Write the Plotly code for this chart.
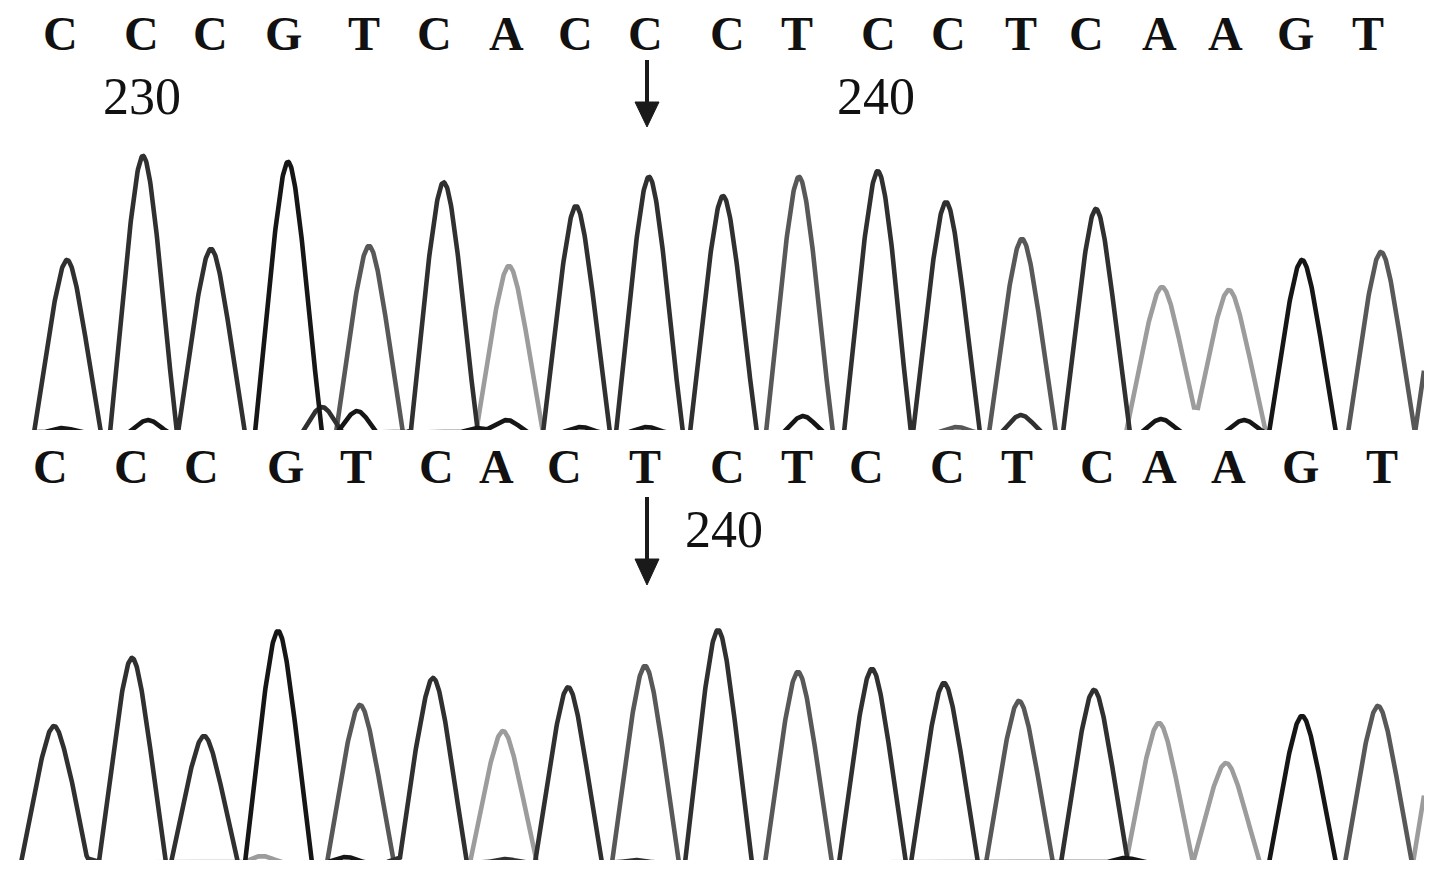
import numpy as np
import plotly.graph_objects as go

W, H = 1441, 878      # reference picture size (pixels)

# ---------------- data ----------------
# Upper trace (wild type)
top_bases = list("CCCGTCACCCTCCTCAAGT")
top_label_x = [60, 141, 210, 283, 364, 434, 506, 575, 645, 727, 797, 878, 948, 1021, 1086, 1159, 1225, 1295, 1368]
top_peak_x = [67, 143, 211, 288, 369, 444, 509, 576, 649, 723, 799, 877, 946, 1022, 1096, 1162, 1229, 1302, 1381]
top_peak_h = [173, 277, 184, 271, 187, 250, 167, 227, 256, 237, 256, 256, 231, 194, 219, 146, 143, 173, 181]
top_peak_w = [33, 33, 33, 33, 33, 33, 33, 33, 33, 33, 33, 33, 33, 33, 33, 36, 36, 33, 33]
top_edge_x, top_edge_h, top_edge_base = [1448], [180], ["T"]
top_minor_x = [62, 148, 322, 357, 425, 478, 507, 581, 647, 803, 890, 957, 1021, 1095, 1161, 1244]
top_minor_h = [5, 13, 26, 22, 7, 5, 13, 6, 6, 17, 12, 6, 18, 5, 14, 13]
top_minor_base = list("GGCGCGGGGGCTCCGG")
top_pos_num = ["230", "240"]
top_pos_x = [142, 876]

# Lower trace (mutant)
bot_bases = list("CCCGTCACTCTCCTCAAGT")
bot_label_x = [50, 131, 201, 285, 356, 436, 496, 564, 645, 727, 797, 866, 947, 1017, 1097, 1159, 1228, 1300, 1382]
bot_peak_x = [54, 132, 204, 278, 360, 433, 503, 568, 645, 718, 798, 872, 944, 1019, 1094, 1159, 1226, 1302, 1378]
bot_peak_h = [137, 205, 127, 232, 158, 185, 132, 172, 197, 233, 191, 194, 180, 162, 173, 140, 100, 147, 157]
bot_peak_w = [33] * 19
bot_edge_x, bot_edge_h, bot_edge_base = [1446], [160], ["A"]
bot_minor_x = [83, 262, 346, 405, 505, 572, 636, 1125]
bot_minor_h = [5, 7, 6, 6, 4, 4, 3, 5]
bot_minor_base = list("CAGCCCCG")
bot_pos_num = ["240"]
bot_pos_x = [724]

mutation_index = 8  # arrowed base (C -> T)

channel_order = ["A", "T", "C", "G"]
channel_color = {"A": "#9c9c9c", "T": "#585858", "C": "#303030", "G": "#161616"}

# ---------------- helpers ----------------
X_MIN, X_MAX = 16, 1424
xs = np.arange(X_MIN, X_MAX + 0.5, 0.5)
BASE_DROP = 4  # trace baseline sits just below the clipped bottom edge


def peak_profile(x, c, h, w, r=10.0):
    d = x - c
    f = h * (1 - (np.sqrt(d * d + r * r) - r) / (np.sqrt(w * w + r * r) - r))
    return np.clip(f, 0, None)


def channel_signal(base, p):
    y = np.zeros_like(xs)
    for b, c, h, w in zip(p["bases"], p["px"], p["ph"], p["pw"]):
        if b == base:
            y += peak_profile(xs, c, h, w)
    for b, c, h in zip(p["eb"], p["ex"], p["eh"]):
        if b == base:
            y += peak_profile(xs, c, h, 33)
    for b, c, h in zip(p["mb"], p["mx"], p["mh"]):
        if b == base:
            y += peak_profile(xs, c, h, 20, r=8)
    return y - BASE_DROP


fig = go.Figure()

panels = [
    dict(bases=top_bases, px=top_peak_x, ph=top_peak_h, pw=top_peak_w,
         ex=top_edge_x, eh=top_edge_h, eb=top_edge_base,
         mx=top_minor_x, mh=top_minor_h, mb=top_minor_base, xa="x", ya="y"),
    dict(bases=bot_bases, px=bot_peak_x, ph=bot_peak_h, pw=bot_peak_w,
         ex=bot_edge_x, eh=bot_edge_h, eb=bot_edge_base,
         mx=bot_minor_x, mh=bot_minor_h, mb=bot_minor_base, xa="x2", ya="y2"),
]

for p in panels:
    for base in channel_order:
        fig.add_trace(go.Scatter(
            x=xs, y=channel_signal(base, p), mode="lines", xaxis=p["xa"], yaxis=p["ya"],
            line=dict(color=channel_color[base], width=4.6),
            hoverinfo="skip", showlegend=False,
        ))

# ---------------- text ----------------
TXT = "#111111"
LETTER_FONT = dict(family="Liberation Serif", size=48, color=TXT, weight="bold")
NUM_FONT = dict(family="Liberation Serif", size=52, color=TXT)


def pyp(pix):
    return 1 - pix / H


for b, x in zip(top_bases, top_label_x):
    fig.add_annotation(x=x, y=pyp(33), xref="x", yref="paper", text=b, showarrow=False,
                       font=LETTER_FONT, xanchor="center", yanchor="middle")
for b, x in zip(bot_bases, bot_label_x):
    fig.add_annotation(x=x, y=pyp(466), xref="x2", yref="paper", text=b, showarrow=False,
                       font=LETTER_FONT, xanchor="center", yanchor="middle")
for t, x in zip(top_pos_num, top_pos_x):
    fig.add_annotation(x=x, y=pyp(96), xref="x", yref="paper", text=t, showarrow=False,
                       font=NUM_FONT, xanchor="center", yanchor="middle")
for t, x in zip(bot_pos_num, bot_pos_x):
    fig.add_annotation(x=x, y=pyp(529), xref="x2", yref="paper", text=t, showarrow=False,
                       font=NUM_FONT, xanchor="center", yanchor="middle")


# ---------------- arrows ----------------
def arrow(xref, xc, y_top, y_head, y_tip, half=12):
    fig.add_shape(type="line", xref=xref, yref="paper", x0=xc, x1=xc,
                  y0=pyp(y_top), y1=pyp(y_head + 4), line=dict(color="#1a1a1a", width=4))
    fig.add_shape(type="path", xref=xref, yref="paper",
                  path=f"M {xc - half},{pyp(y_head)} L {xc + half},{pyp(y_head)} L {xc},{pyp(y_tip)} Z",
                  fillcolor="#1a1a1a", line=dict(color="#1a1a1a", width=1))


arrow("x", top_label_x[mutation_index] + 2, 60, 102, 127)
arrow("x2", bot_label_x[mutation_index] + 2, 497, 559, 585)

# ---------------- layout ----------------
xdom = [X_MIN / W, X_MAX / W]
fig.update_layout(
    width=W, height=H,
    margin=dict(l=0, r=0, t=0, b=0),
    paper_bgcolor="white", plot_bgcolor="white",
    showlegend=False,
    xaxis=dict(domain=xdom, range=[X_MIN, X_MAX], visible=False, anchor="y"),
    yaxis=dict(domain=[pyp(430), 1], range=[-1, 429], visible=False, anchor="x"),
    xaxis2=dict(domain=xdom, range=[X_MIN, X_MAX], visible=False, anchor="y2"),
    yaxis2=dict(domain=[pyp(860), pyp(440)], range=[-1, 419], visible=False, anchor="x2"),
)

# the page body gets no margin so the figure sits at the window's top-left corner
fig.write_html(
    "out.html",
    config={"displayModeBar": False},
    post_script="document.body.style.margin='0';document.body.style.overflow='hidden';",
)
